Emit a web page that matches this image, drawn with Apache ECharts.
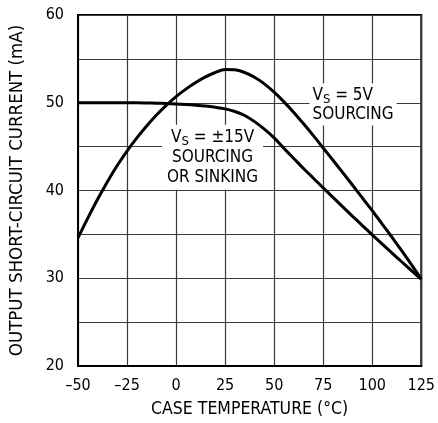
<!DOCTYPE html>
<html><head><meta charset="utf-8">
<script src="https://cdn.jsdelivr.net/npm/echarts@6/dist/echarts.min.js"></script>
<style>html,body{margin:0;padding:0;background:#fff}#c{width:438px;height:423px}</style>
</head><body><div id="c"></div>
<script>
// Case temperature (°C) vs output short-circuit current (mA)
const temps = [-50, -45, -40, -35, -30, -25, -20, -15, -10, -5, 0, 5, 10, 15, 20, 25, 30, 35, 40, 45,
               50, 55, 60, 65, 70, 75, 80, 85, 90, 95, 100, 105, 110, 115, 120, 125];
const curr15 = [50.0, 50.0, 50.0, 50.0, 50.0, 50.0, 50.0, 49.98, 49.95, 49.92, 49.87, 49.8, 49.72, 49.62, 49.48, 49.3, 49.0, 48.55, 47.85, 47.0,
                46.0, 44.8, 43.65, 42.5, 41.4, 40.3, 39.21, 38.13, 37.06, 36.0, 34.95, 33.92, 32.9, 31.88, 30.88, 29.9];
const curr5 = [34.6, 36.85, 39.0, 41.0, 42.85, 44.5, 46.0, 47.35, 48.6, 49.7, 50.7, 51.55, 52.3, 52.95, 53.45, 53.8, 53.75, 53.45, 52.9, 52.15,
               51.2, 50.1, 48.9, 47.6, 46.25, 44.85, 43.45, 42.03, 40.6, 39.15, 37.7, 36.2, 34.7, 33.15, 31.55, 29.9];
const xTickLabels = {'-50':'–50','-25':'–25','0':'0','25':'25','50':'50','75':'75','100':'100','125':'125'};
const yTickLabels = {'20':'20','30':'30','40':'40','50':'50','60':'60'};
const label5Pos = [68, 49.8];
const label15Pos = [18.6, 43.8];

const FONT = "'Liberation Sans Narrow','DejaVu Sans Condensed',sans-serif";
const chart = echarts.init(document.getElementById('c'), null, {renderer:'canvas'});
const pairs = (xs, ys) => xs.map((x, i) => [x, ys[i]]);
const rich = {
  v: {fontFamily: FONT, fontSize: 17, color: '#000'},
  s: {fontFamily: FONT, fontSize: 13, color: '#000', padding: [8, 0, 0, 0]}
};
chart.setOption({
  animation: false,
  grid: {left: 77, top: 15, right: 9, bottom: 56, show: true, borderColor: '#000', borderWidth: 2},
  xAxis: {
    type: 'value', min: -50, max: 125, interval: 25,
    name: 'CASE TEMPERATURE (°C)', nameLocation: 'middle', nameGap: 34,
    nameTextStyle: {fontFamily: FONT, fontSize: 17.5, color: '#000'},
    axisLine: {show: true, onZero: false, lineStyle: {color: '#000', width: 2}},
    axisTick: {show: false},
    axisLabel: {fontFamily: FONT, fontSize: 16, color: '#000', margin: 12,
      formatter: v => xTickLabels[String(v)] ?? ''},
    splitLine: {show: true, lineStyle: {color: '#3a3a3a', width: 1.2}}
  },
  yAxis: {
    type: 'value', min: 20, max: 60, interval: 5,
    name: 'OUTPUT SHORT-CIRCUIT CURRENT (mA)', nameLocation: 'middle', nameGap: 51,
    nameTextStyle: {fontFamily: FONT, fontSize: 18.5, color: '#000'},
    axisLine: {show: true, onZero: false, lineStyle: {color: '#000', width: 2}},
    axisTick: {show: false},
    axisLabel: {fontFamily: FONT, fontSize: 16, color: '#000', margin: 14,
      formatter: v => yTickLabels[String(v)] ?? ''},
    splitLine: {show: true, lineStyle: {color: '#3a3a3a', width: 1.2}}
  },
  series: [
    {
      type: 'line', data: pairs(temps, curr15), smooth: 0.3, showSymbol: false, symbol: 'none',
      lineStyle: {color: '#000', width: 3}, z: 5,
      markPoint: {symbol: 'rect', symbolSize: 0, silent: true, data: [{
        coord: label15Pos,
        label: {show: true, position: 'inside', align: 'center', verticalAlign: 'middle',
          backgroundColor: '#fff', padding: [3, 5, 2, 5], lineHeight: 20,
          formatter: '{v|V}{s|S}{v| = ±15V}\n{v|SOURCING}\n{v|OR SINKING}', rich: rich}
      }]}
    },
    {
      type: 'line', data: pairs(temps, curr5), smooth: 0.3, showSymbol: false, symbol: 'none',
      lineStyle: {color: '#000', width: 3}, z: 5,
      markPoint: {symbol: 'rect', symbolSize: 0, silent: true, data: [{
        coord: label5Pos,
        label: {show: true, position: 'inside', align: 'left', verticalAlign: 'middle',
          backgroundColor: '#fff', padding: [3, 3, 2, 3], lineHeight: 18.5,
          formatter: '{v|V}{s|S}{v| = 5V}\n{v|SOURCING}', rich: rich}
      }]}
    }
  ]
});
</script></body></html>
